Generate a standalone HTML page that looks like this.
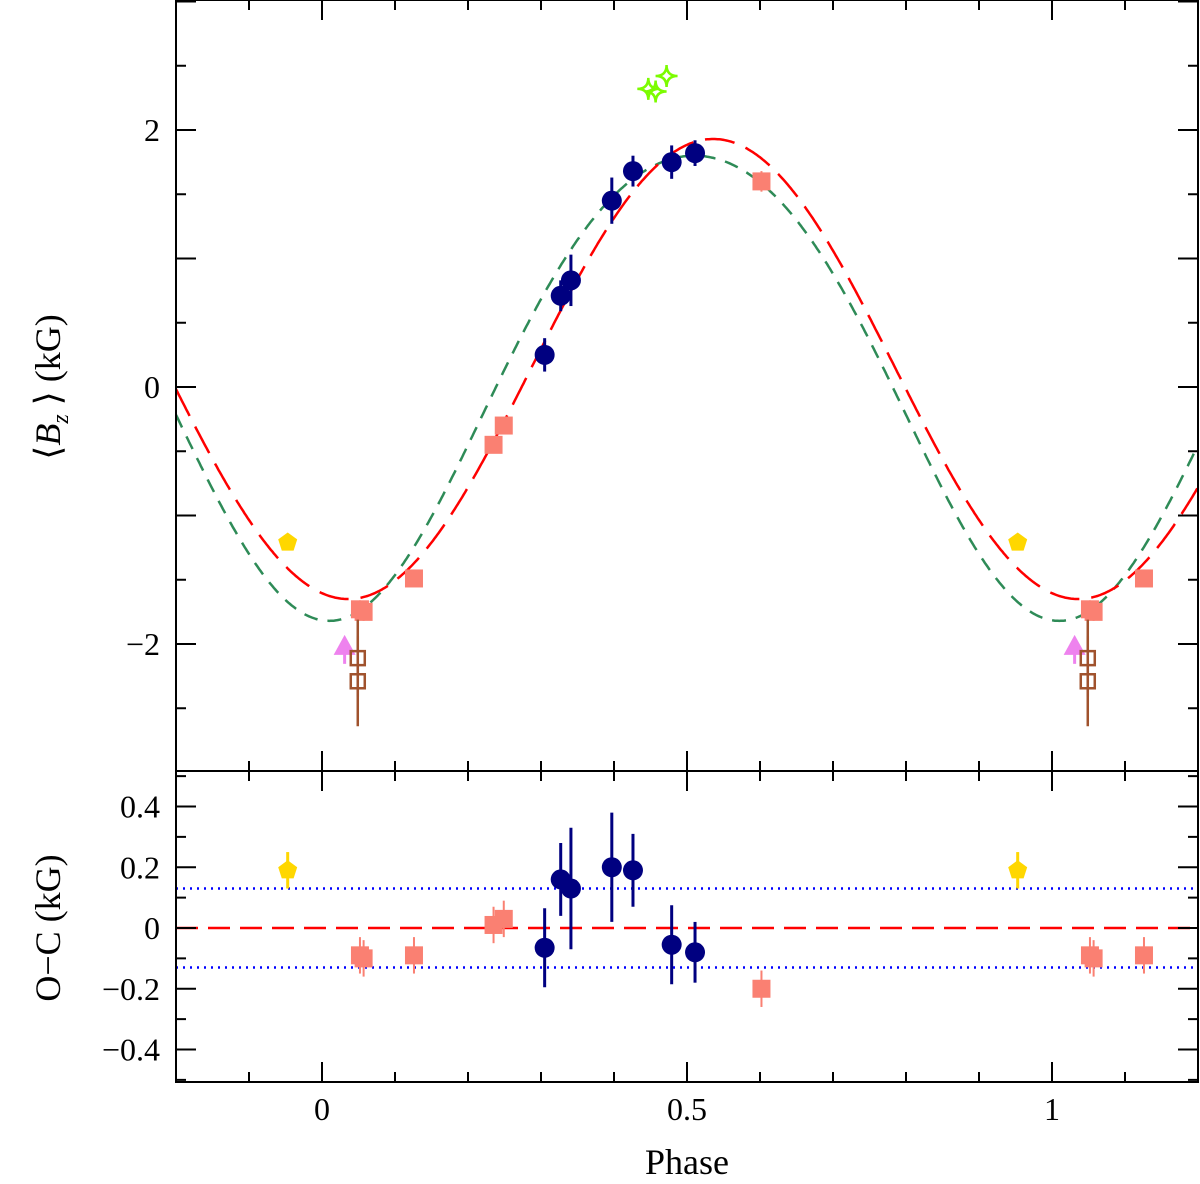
<!DOCTYPE html>
<html><head><meta charset="utf-8"><style>
html,body{margin:0;padding:0;background:#fff}
svg text{font-family:"Liberation Serif",serif;fill:#000}
</style></head><body>
<svg id="c" width="1200" height="1179" viewBox="0 0 1200 1179" xmlns="http://www.w3.org/2000/svg"></svg>
<script>
// ---- data ----
const circPhase=[0.305,0.327,0.341,0.397,0.426,0.479,0.511];
const circB=[0.25,0.71,0.83,1.45,1.68,1.75,1.82];
const circErr=[0.13,0.12,0.2,0.18,0.12,0.13,0.1];
const circRes=[-0.065,0.16,0.13,0.2,0.19,-0.055,-0.08];
const sqPhase=[0.052,0.057,0.126,0.235,0.249,0.602];
const sqB=[-1.73,-1.75,-1.49,-0.45,-0.30,1.60];
const sqErr=[0.07,0.07,0.06,0.05,0.05,0.08];
const sqRes=[-0.09,-0.1,-0.09,0.01,0.03,-0.2];
const pentPhase=[-0.047];
const pentB=[-1.21];
const pentRes=[0.19];
const triPhase=[0.031];
const triB=[-2.03];
const openPhase=[0.049,0.049];
const openB=[-2.11,-2.29];
const openErr=[0.3,0.35];
const starPhase=[0.447,0.457,0.472];
const starB=[2.32,2.30,2.42];
const redFit=[0.14,1.79,0.536,0];   // B0, B1, phase of max, 2nd harmonic
const greenFit=[0.12,1.81,0.51,-0.13];
const sigma=0.13;
const xTickLabels=["0","0.5","1"];
const yTopLabels=["−2","0","2"];
const yBotLabels=["−0.4","−0.2","0","0.2","0.4"];
// ---- axes ----
const L=176,R=1198,T=0,M=771,B=1082;
const X=p=>L+(p+0.2)/1.4*(R-L);
const YT=v=>387-v*128.5;
const YB=v=>928-v*303.75;
const svg=document.getElementById('c');
const NS='http://www.w3.org/2000/svg';
function mk(tag,a,parent){const e=document.createElementNS(NS,tag);for(const k in a)e.setAttribute(k,a[k]);(parent||svg).appendChild(e);return e;}
function vis(p){return p>=-0.2&&p<=1.2;}
function copies(p){return [p,p+1,p-1].filter(vis);}
// curves
function curve(fit,col,dash,name){
 let d='';for(let i=0;i<=700;i++){const p=-0.2+1.4*i/700;const v=fit[0]+fit[1]*Math.cos(2*Math.PI*(p-fit[2]))+fit[3]*Math.cos(4*Math.PI*(p-fit[2]));d+=(i?'L':'M')+X(p).toFixed(1)+','+YT(v).toFixed(1);}
 const e=mk('path',{d:d,fill:'none',stroke:col,'stroke-width':2.5,'stroke-dasharray':dash});
 
 
}
curve(greenFit,'#2e8b57','14,10','green-fit-curve');
curve(redFit,'#ff0000','30,12','red-fit-curve');
// residual lines
let e=mk('line',{x1:L,x2:R,y1:YB(0),y2:YB(0),stroke:'#ff0000','stroke-width':2.5,'stroke-dasharray':'22,10'});

[sigma,-sigma].forEach(s=>{const l=mk('line',{x1:L,x2:R,y1:YB(s),y2:YB(s),stroke:'#0000ff','stroke-width':2.5,'stroke-dasharray':'2,5'});
 });
function err(x,y1,y2,col,w){mk('line',{x1:x,x2:x,y1:y1,y2:y2,stroke:col,'stroke-width':w||3});}
// squares
sqPhase.forEach((p,i)=>copies(p).forEach(q=>{
 err(X(q),YT(sqB[i]+sqErr[i]),YT(sqB[i]-sqErr[i]),'#fa8072',2);
 const r=mk('rect',{x:X(q)-9,y:YT(sqB[i])-9,width:18,height:18,fill:'#fa8072'});
 
 err(X(q),YB(sqRes[i]+0.06),YB(sqRes[i]-0.06),'#fa8072',2);
 const r2=mk('rect',{x:X(q)-9,y:YB(sqRes[i])-9,width:18,height:18,fill:'#fa8072'});
 
}));
// circles
circPhase.forEach((p,i)=>copies(p).forEach(q=>{
 err(X(q),YT(circB[i]+circErr[i]),YT(circB[i]-circErr[i]),'#000080',3);
 const c=mk('circle',{cx:X(q),cy:YT(circB[i]),r:10,fill:'#000080'});
 
 err(X(q),YB(circRes[i]+circErr[i]),YB(circRes[i]-circErr[i]),'#000080',3);
 const c2=mk('circle',{cx:X(q),cy:YB(circRes[i]),r:10,fill:'#000080'});
 
}));
function pent(cx,cy,r){let pts=[];for(let k=0;k<5;k++){const a=-Math.PI/2+k*2*Math.PI/5;pts.push((cx+r*Math.cos(a)).toFixed(1)+','+(cy+r*Math.sin(a)).toFixed(1));}return pts.join(' ');}
pentPhase.forEach((p,i)=>copies(p).forEach(q=>{
 const a=mk('polygon',{points:pent(X(q),YT(pentB[i]),10),fill:'#ffd700'});
 
 err(X(q),YB(pentRes[i]+0.06),YB(pentRes[i]-0.06),'#ffd700',3);
 const b=mk('polygon',{points:pent(X(q),YB(pentRes[i]),10),fill:'#ffd700'});
 
}));
triPhase.forEach((p,i)=>copies(p).forEach(q=>{
 const x=X(q),y=YT(triB[i]);
 err(x,y-10,y+16,'#ee82ee',3);
 const t=mk('polygon',{points:`${x},${y-13} ${x-11},${y+7} ${x+11},${y+7}`,fill:'#ee82ee'});
 
}));
openPhase.forEach((p,i)=>copies(p).forEach(q=>{
 const x=X(q),y=YT(openB[i]);
 err(x,YT(openB[i]+openErr[i]),YT(openB[i]-openErr[i]),'#a0522d',2.5);
 const s=mk('rect',{x:x-7,y:y-7,width:14,height:14,fill:'none',stroke:'#a0522d','stroke-width':2.5});
 
}));
starPhase.forEach((p,i)=>copies(p).forEach(q=>{
 const x=X(q),y=YT(starB[i]),r=11;
 const d=`M${x},${y-r} Q${x},${y} ${x+r},${y} Q${x},${y} ${x},${y+r} Q${x},${y} ${x-r},${y} Q${x},${y} ${x},${y-r}Z`;
 const s=mk('path',{d:d,fill:'none',stroke:'#7cfc00','stroke-width':2.5});
 
}));
// frames
[[T,M,'top-panel-frame'],[M,B,'bottom-panel-frame']].forEach(f=>{
 const r=mk('rect',{x:L,y:f[0],width:R-L,height:f[1]-f[0],fill:'none',stroke:'#000','stroke-width':2});
 });
// ticks
const tk=mk('g',{stroke:'#000','stroke-width':2});
for(let k=-2;k<=12;k++){const p=k/10,x=X(p),maj=(k%5===0),len=maj?20:10;
 [[T,1],[M,-1],[M,1],[B,-1]].forEach(([y,s])=>mk('line',{x1:x,x2:x,y1:y,y2:y+s*len},tk));}
for(let k=-6;k<=6;k++){const v=k/2,y=YT(v),len=(k%2===0)?20:10;
 if(y<=T+1||y>=M-1)continue;
 mk('line',{x1:L,x2:L+len,y1:y,y2:y},tk);mk('line',{x1:R,x2:R-len,y1:y,y2:y},tk);}
for(let k=-5;k<=5;k++){const v=k/10,y=YB(v),len=(k%2===0)?20:10;
 if(y<=M+1||y>=B-1)continue;
 mk('line',{x1:L,x2:L+len,y1:y,y2:y},tk);mk('line',{x1:R,x2:R-len,y1:y,y2:y},tk);}
// labels
[0,0.5,1].forEach((p,i)=>{const t=mk('text',{x:X(p),y:1120,'font-size':32,'text-anchor':'middle'});t.textContent=xTickLabels[i];
 });
[-2,0,2].forEach((v,i)=>{const t=mk('text',{x:160,y:YT(v)+11,'font-size':32,'text-anchor':'end'});t.textContent=yTopLabels[i];
 });
[-0.4,-0.2,0,0.2,0.4].forEach((v,i)=>{const t=mk('text',{x:160,y:YB(v)+11,'font-size':32,'text-anchor':'end'});t.textContent=yBotLabels[i];
 });
</script>
<svg style="position:absolute;left:0;top:0" width="1200" height="1179">
<text x="687" y="1174" font-size="36" text-anchor="middle" font-family="Liberation Serif,serif">Phase</text>
<text transform="translate(60,387) rotate(-90)" font-size="36" text-anchor="middle" font-family="Liberation Serif,serif">⟨<tspan font-style="italic">B</tspan><tspan font-style="italic" font-size="24" dy="8">z</tspan><tspan dy="-8"> ⟩ (kG)</tspan></text>
<text transform="translate(60,928) rotate(-90)" font-size="36" text-anchor="middle" font-family="Liberation Serif,serif">O−C (kG)</text>
</svg>
</body></html>
